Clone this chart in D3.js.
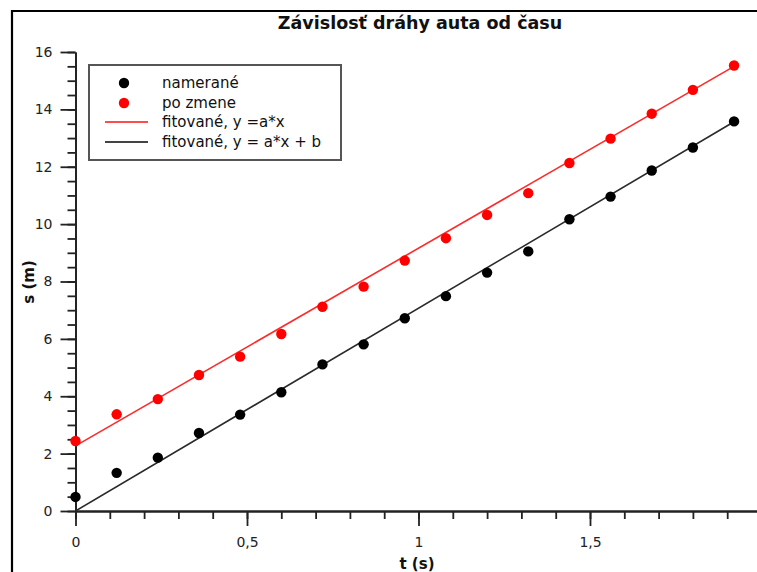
<!DOCTYPE html>
<html>
<head>
<meta charset="utf-8">
<script src="https://cdn.jsdelivr.net/npm/d3@7"></script>
<style>
  html, body { margin: 0; padding: 0; background: #fff; overflow: hidden; }
  svg { display: block; }
  text { font-family: Tahoma, "DejaVu Sans", Verdana, sans-serif; }
</style>
</head>
<body>
<svg id="chart" width="757" height="572"></svg>
<script>
// Time samples (s)
const times = [0, 0.12, 0.24, 0.36, 0.48, 0.60, 0.72, 0.84, 0.96, 1.08, 1.20, 1.32, 1.44, 1.56, 1.68, 1.80, 1.92];
// Distance measured (m)
const measured = [0.49, 1.33, 1.86, 2.72, 3.36, 4.14, 5.11, 5.81, 6.72, 7.49, 8.31, 9.05, 10.17, 10.96, 11.87, 12.67, 13.58];
// Distance after the change (m)
const adjusted = [2.44, 3.37, 3.90, 4.74, 5.38, 6.17, 7.12, 7.82, 8.73, 9.51, 10.32, 11.08, 12.13, 12.98, 13.85, 14.68, 15.53];
// Fitted lines, end points (t, s)
const fitAdjustedT = [0, 1.92];
const fitAdjustedS = [2.27, 15.50];
const fitMeasuredT = [0, 1.92];
const fitMeasuredS = [0, 13.57];
// Axis ticks
const xMajorTicks = [0, 0.5, 1, 1.5, 2];
const xTickLabels = ["0", "0,5", "1", "1,5", "2"];
const yMajorTicks = [0, 2, 4, 6, 8, 10, 12, 14, 16];
const yTickLabels = ["0", "2", "4", "6", "8", "10", "12", "14", "16"];
const legendLabels = ["namerané", "po zmene", "fitované, y =a*x", "fitované, y = a*x + b"];

const svg = d3.select("#chart");

const x = d3.scaleLinear().domain([0, 2]).range([75.5, 761.5]);
const y = d3.scaleLinear().domain([0, 16]).range([511, 52]);

const axisColor = "#222";

// outer frame (top and left edges)
svg.append("line").attr("x1", 11).attr("x2", 757).attr("y1", 11).attr("y2", 11)
  .attr("stroke", "#000").attr("stroke-width", 2.2);
svg.append("line").attr("x1", 12).attr("x2", 12).attr("y1", 10).attr("y2", 572)
  .attr("stroke", "#000").attr("stroke-width", 2.2);

// title
svg.append("text").attr("x", 420).attr("y", 29).attr("text-anchor", "middle")
  .attr("font-size", 17.5).attr("font-weight", "bold").attr("fill", "#111")
  .text("Závislosť dráhy auta od času");

// x axis: minor ticks then major ticks with labels
const xMinor = d3.range(0, 2.0001, 0.1).map(v => +v.toFixed(1));
const gxMinor = svg.append("g").attr("transform", `translate(0,${y(0)})`)
  .call(d3.axisBottom(x).tickValues(xMinor).tickSize(8).tickSizeOuter(0).tickFormat(""));
const gx = svg.append("g").attr("transform", `translate(0,${y(0)})`)
  .call(d3.axisBottom(x).tickValues(xMajorTicks).tickSize(15).tickSizeOuter(0)
    .tickFormat((d, i) => xTickLabels[i]));
gx.selectAll("text").attr("font-size", 14).attr("fill", "#222").attr("dy", 0).attr("y", 36)
  .style("font-family", 'Tahoma, "DejaVu Sans", sans-serif');

// y axis
const yMinor = d3.range(0, 16.0001, 0.5);
const gyMinor = svg.append("g").attr("transform", `translate(${x(0)},0)`)
  .call(d3.axisLeft(y).tickValues(yMinor).tickSize(8).tickSizeOuter(0).tickFormat(""));
const gy = svg.append("g").attr("transform", `translate(${x(0)},0)`)
  .call(d3.axisLeft(y).tickValues(yMajorTicks).tickSize(15).tickSizeOuter(0)
    .tickFormat((d, i) => yTickLabels[i]));
gy.selectAll("text").attr("font-size", 14).attr("fill", "#222").attr("x", -23)
  .style("font-family", 'Tahoma, "DejaVu Sans", sans-serif');

[gxMinor, gx, gyMinor, gy].forEach(g => {
  g.selectAll("path.domain").attr("stroke", axisColor).attr("stroke-width", 1.8);
  g.selectAll(".tick line").attr("stroke", axisColor).attr("stroke-width", 1.8);
});

// axis titles
svg.append("text").attr("x", 417).attr("y", 569).attr("text-anchor", "middle")
  .attr("font-size", 15).attr("font-weight", "bold").attr("fill", "#111").text("t (s)");
svg.append("text").attr("transform", "translate(34,282) rotate(-90)").attr("text-anchor", "middle")
  .attr("font-size", 15).attr("font-weight", "bold").attr("fill", "#111").text("s (m)");

// fitted lines
const line = d3.line().x(d => x(d[0])).y(d => y(d[1]));
svg.append("path").datum(d3.zip(fitAdjustedT, fitAdjustedS)).attr("d", line)
  .attr("fill", "none").attr("stroke", "#ff2a2a").attr("stroke-width", 1.6);
svg.append("path").datum(d3.zip(fitMeasuredT, fitMeasuredS)).attr("d", line)
  .attr("fill", "none").attr("stroke", "#2a2a2a").attr("stroke-width", 1.6);

// data points
svg.append("g").selectAll("circle").data(d3.zip(times, adjusted)).join("circle")
  .attr("cx", d => x(d[0])).attr("cy", d => y(d[1])).attr("r", 5.2).attr("fill", "#ff0000");
svg.append("g").selectAll("circle").data(d3.zip(times, measured)).join("circle")
  .attr("cx", d => x(d[0])).attr("cy", d => y(d[1])).attr("r", 5.2).attr("fill", "#000");

// legend
const lg = svg.append("g");
lg.append("rect").attr("x", 89).attr("y", 65).attr("width", 252).attr("height", 95)
  .attr("fill", "#fff").attr("stroke", "#555").attr("stroke-width", 2);
const rowY = [83, 103, 122, 142];
lg.append("circle").attr("cx", 124).attr("cy", rowY[0]).attr("r", 5.2).attr("fill", "#000");
lg.append("circle").attr("cx", 124).attr("cy", rowY[1]).attr("r", 5.2).attr("fill", "#ff0000");
lg.append("line").attr("x1", 105).attr("x2", 148).attr("y1", rowY[2]).attr("y2", rowY[2])
  .attr("stroke", "#ff4d4d").attr("stroke-width", 2);
lg.append("line").attr("x1", 105).attr("x2", 148).attr("y1", rowY[3]).attr("y2", rowY[3])
  .attr("stroke", "#444").attr("stroke-width", 2);
lg.selectAll("text.lbl").data(legendLabels).join("text").attr("class", "lbl")
  .attr("x", 162).attr("y", (d, i) => rowY[i] + 5)
  .attr("font-size", 15).attr("fill", "#111").text(d => d);
</script>
</body>
</html>
